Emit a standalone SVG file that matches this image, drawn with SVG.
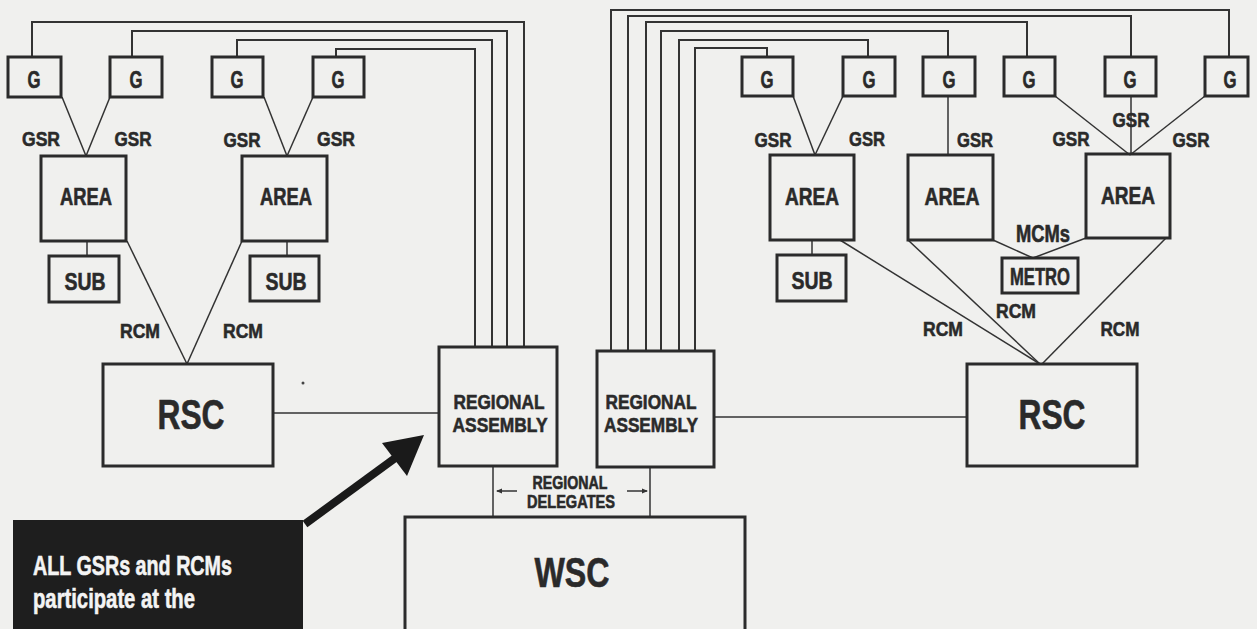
<svg xmlns="http://www.w3.org/2000/svg" width="1257" height="629" viewBox="0 0 1257 629">
<style>
.bx{fill:none;stroke:#2b2b2b;stroke-width:3}
.ln{fill:none;stroke:#333;stroke-width:1.5}
.tp{fill:none;stroke:#333;stroke-width:2}
text{font-family:"Liberation Sans Narrow","Liberation Sans",Arial,sans-serif;font-weight:bold;fill:#2a2a2a;stroke:#2a2a2a;stroke-width:0.6;text-anchor:middle}
.g{font-size:23px}
.r{font-size:21px}
.s{font-size:21px}
.d{font-size:18px}
.m{font-size:24px}
.b{font-size:42px}
.w{fill:#f4f4f4;stroke:#f4f4f4;font-size:28px;text-anchor:start}
</style>
<defs>
<marker id="ah" markerWidth="6" markerHeight="6" refX="5" refY="3" orient="auto" markerUnits="userSpaceOnUse">
<path d="M0,0.5 L6,3 L0,5.5 Z" fill="#333"/>
</marker>
</defs>
<rect width="1257" height="629" fill="#f0f0ee"/>
<g id="connectors">
<polyline class="tp" points="32,57 32,22 524,22 524,347"/>
<polyline class="tp" points="132,57 132,31 507,31 507,347"/>
<polyline class="tp" points="237,57 237,40 492,40 492,347"/>
<polyline class="tp" points="336,57 336,49 475,49 475,347"/>
<polyline class="tp" points="1229,57 1229,10 611,10 611,351"/>
<polyline class="tp" points="1131,57 1131,16 628,16 628,351"/>
<polyline class="tp" points="1027,57 1027,22 646,22 646,351"/>
<polyline class="tp" points="948,57 948,31 661,31 661,351"/>
<polyline class="tp" points="868,57 868,40 679,40 679,351"/>
<polyline class="tp" points="767,57 767,48 695,48 695,351"/>
<line class="ln" x1="62" y1="97" x2="86" y2="156"/>
<line class="ln" x1="110" y1="97" x2="86" y2="156"/>
<line class="ln" x1="264" y1="97" x2="287" y2="156"/>
<line class="ln" x1="313" y1="97" x2="287" y2="156"/>
<line class="ln" x1="87" y1="241" x2="87" y2="256"/>
<line class="ln" x1="287" y1="241" x2="287" y2="256"/>
<line class="ln" x1="127" y1="241" x2="187" y2="364"/>
<line class="ln" x1="242" y1="241" x2="187" y2="364"/>
<line class="ln" x1="273" y1="413" x2="439" y2="413"/>
<line class="ln" x1="793" y1="96" x2="815" y2="155"/>
<line class="ln" x1="843" y1="96" x2="815" y2="155"/>
<line class="ln" x1="948" y1="96" x2="948" y2="155"/>
<line class="ln" x1="1055" y1="96" x2="1130" y2="155"/>
<line class="ln" x1="1131" y1="96" x2="1131" y2="155"/>
<line class="ln" x1="1205" y1="96" x2="1130" y2="155"/>
<line class="ln" x1="812" y1="240" x2="812" y2="255"/>
<line class="ln" x1="840" y1="240" x2="1040" y2="364"/>
<line class="ln" x1="908" y1="240" x2="1040" y2="364"/>
<line class="ln" x1="1166" y1="238" x2="1042" y2="364"/>
<line class="ln" x1="993" y1="240" x2="1033" y2="258"/>
<line class="ln" x1="1086" y1="238" x2="1033" y2="258"/>
<line class="ln" x1="714" y1="417" x2="967" y2="417"/>
<line class="ln" x1="493" y1="466" x2="493" y2="517"/>
<line class="ln" x1="650" y1="466" x2="650" y2="517"/>
<line class="ln" x1="517" y1="491" x2="497" y2="491" marker-end="url(#ah)"/>
<line class="ln" x1="627" y1="491" x2="647" y2="491" marker-end="url(#ah)"/>
<line x1="305" y1="524" x2="398" y2="456" stroke="#1a1a1a" stroke-width="8"/>
<polygon points="424,435 382,443 407,476" fill="#1a1a1a"/>
</g>
<g id="g1"><rect class="bx" x="8" y="57" width="53" height="40"/><text class="g" x="34" y="88" textLength="13" lengthAdjust="spacingAndGlyphs">G</text></g>
<g id="g2"><rect class="bx" x="110" y="57" width="52" height="40"/><text class="g" x="136" y="88" textLength="13" lengthAdjust="spacingAndGlyphs">G</text></g>
<g id="g3"><rect class="bx" x="212" y="57" width="51" height="40"/><text class="g" x="237" y="88" textLength="13" lengthAdjust="spacingAndGlyphs">G</text></g>
<g id="g4"><rect class="bx" x="313" y="57" width="51" height="40"/><text class="g" x="338" y="88" textLength="13" lengthAdjust="spacingAndGlyphs">G</text></g>
<g id="g5"><rect class="bx" x="742" y="57" width="51" height="39"/><text class="g" x="767" y="88" textLength="13" lengthAdjust="spacingAndGlyphs">G</text></g>
<g id="g6"><rect class="bx" x="843" y="57" width="52" height="39"/><text class="g" x="869" y="88" textLength="13" lengthAdjust="spacingAndGlyphs">G</text></g>
<g id="g7"><rect class="bx" x="923" y="57" width="52" height="39"/><text class="g" x="949" y="88" textLength="13" lengthAdjust="spacingAndGlyphs">G</text></g>
<g id="g8"><rect class="bx" x="1004" y="57" width="51" height="39"/><text class="g" x="1029" y="88" textLength="13" lengthAdjust="spacingAndGlyphs">G</text></g>
<g id="g9"><rect class="bx" x="1105" y="57" width="51" height="39"/><text class="g" x="1130" y="88" textLength="13" lengthAdjust="spacingAndGlyphs">G</text></g>
<g id="g10"><rect class="bx" x="1205" y="57" width="43" height="39"/><text class="g" x="1230" y="88" textLength="13" lengthAdjust="spacingAndGlyphs">G</text></g>
<g id="labels">
<text class="s" x="41" y="146" textLength="38" lengthAdjust="spacingAndGlyphs">GSR</text>
<text class="s" x="133" y="146" textLength="37" lengthAdjust="spacingAndGlyphs">GSR</text>
<text class="s" x="242" y="147" textLength="37" lengthAdjust="spacingAndGlyphs">GSR</text>
<text class="s" x="336" y="146" textLength="38" lengthAdjust="spacingAndGlyphs">GSR</text>
<text class="s" x="773" y="147" textLength="37" lengthAdjust="spacingAndGlyphs">GSR</text>
<text class="s" x="867" y="146" textLength="36" lengthAdjust="spacingAndGlyphs">GSR</text>
<text class="s" x="975" y="147" textLength="36" lengthAdjust="spacingAndGlyphs">GSR</text>
<text class="s" x="1071" y="146" textLength="37" lengthAdjust="spacingAndGlyphs">GSR</text>
<text class="s" x="1131" y="127" textLength="37" lengthAdjust="spacingAndGlyphs">GSR</text>
<text class="s" x="1191" y="147" textLength="37" lengthAdjust="spacingAndGlyphs">GSR</text>
<text class="s" x="140" y="338" textLength="40" lengthAdjust="spacingAndGlyphs">RCM</text>
<text class="s" x="243" y="338" textLength="40" lengthAdjust="spacingAndGlyphs">RCM</text>
<text class="s" x="943" y="336" textLength="40" lengthAdjust="spacingAndGlyphs">RCM</text>
<text class="s" x="1016" y="318" textLength="40" lengthAdjust="spacingAndGlyphs">RCM</text>
<text class="s" x="1120" y="336" textLength="39" lengthAdjust="spacingAndGlyphs">RCM</text>
<text class="g" x="1043" y="242" textLength="54" lengthAdjust="spacingAndGlyphs">MCMs</text>
<text class="d" x="570" y="489" textLength="75" lengthAdjust="spacingAndGlyphs">REGIONAL</text>
<text class="d" x="571" y="508" textLength="88" lengthAdjust="spacingAndGlyphs">DELEGATES</text>
<circle cx="303" cy="383" r="1.5" fill="#444"/>
</g>
<g id="area1"><rect class="bx" x="41" y="156" width="85" height="85"/><text class="m" x="86" y="205" textLength="52" lengthAdjust="spacingAndGlyphs">AREA</text></g>
<g id="area2"><rect class="bx" x="242" y="156" width="85" height="85"/><text class="m" x="286" y="205" textLength="52" lengthAdjust="spacingAndGlyphs">AREA</text></g>
<g id="area3"><rect class="bx" x="770" y="155" width="84" height="85"/><text class="m" x="812" y="205" textLength="54" lengthAdjust="spacingAndGlyphs">AREA</text></g>
<g id="area4"><rect class="bx" x="908" y="155" width="85" height="85"/><text class="m" x="952" y="205" textLength="55" lengthAdjust="spacingAndGlyphs">AREA</text></g>
<g id="area5"><rect class="bx" x="1086" y="154" width="84" height="84"/><text class="m" x="1128" y="204" textLength="54" lengthAdjust="spacingAndGlyphs">AREA</text></g>
<g id="sub1"><rect class="bx" x="49" y="256" width="70" height="46"/><text class="m" x="85" y="290" textLength="41" lengthAdjust="spacingAndGlyphs">SUB</text></g>
<g id="sub2"><rect class="bx" x="250" y="256" width="69" height="45"/><text class="m" x="286" y="290" textLength="41" lengthAdjust="spacingAndGlyphs">SUB</text></g>
<g id="sub3"><rect class="bx" x="777" y="255" width="69" height="46"/><text class="m" x="812" y="289" textLength="41" lengthAdjust="spacingAndGlyphs">SUB</text></g>
<g id="metro"><rect class="bx" x="1002" y="258" width="76" height="35"/><text class="g" x="1040" y="285" textLength="60" lengthAdjust="spacingAndGlyphs">METRO</text></g>
<g id="rsc-left"><rect class="bx" x="103" y="364" width="170" height="102"/><text class="b" x="191" y="429" textLength="67" lengthAdjust="spacingAndGlyphs">RSC</text></g>
<g id="rsc-right"><rect class="bx" x="967" y="364" width="170" height="102"/><text class="b" x="1052" y="429" textLength="67" lengthAdjust="spacingAndGlyphs">RSC</text></g>
<g id="ra1"><rect class="bx" x="439" y="347" width="118" height="119"/><text class="r" x="499" y="409" textLength="91" lengthAdjust="spacingAndGlyphs">REGIONAL</text><text class="r" x="500" y="432" textLength="95" lengthAdjust="spacingAndGlyphs">ASSEMBLY</text></g>
<g id="ra2"><rect class="bx" x="597" y="351" width="117" height="116"/><text class="r" x="651" y="409" textLength="91" lengthAdjust="spacingAndGlyphs">REGIONAL</text><text class="r" x="651" y="432" textLength="94" lengthAdjust="spacingAndGlyphs">ASSEMBLY</text></g>
<g id="wsc"><rect class="bx" x="405" y="517" width="340" height="130"/><text class="b" x="572" y="587" textLength="75" lengthAdjust="spacingAndGlyphs">WSC</text></g>
<g id="callout"><rect x="13" y="520" width="290" height="120" fill="#1e1e1e"/><text class="w" x="33" y="575" textLength="199" lengthAdjust="spacingAndGlyphs">ALL GSRs and RCMs</text><text class="w" x="33" y="608" textLength="162" lengthAdjust="spacingAndGlyphs">participate at the</text></g>
</svg>
